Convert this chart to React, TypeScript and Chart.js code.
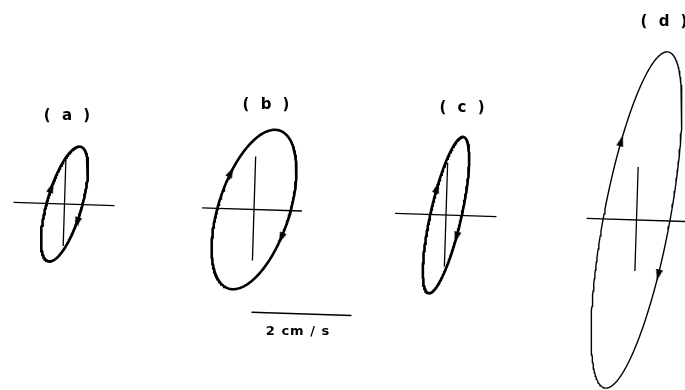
import React, { useEffect, useRef } from 'react';
import { Chart, registerables } from 'chart.js';

Chart.register(...registerables);

// ---- Data (tidal current ellipses, cm/s) ----
const stations = ['(a)', '(b)', '(c)', '(d)'];
const majorAxis = [1.19, 1.66, 1.6, 3.42]; // semi-major axis, cm/s
const minorAxis = [0.35, 0.71, 0.31, 0.66]; // semi-minor axis, cm/s
const inclination = [16, 18, 12.7, 10.7]; // degrees clockwise from north
const arrowPhaseUp = [-78, -70, -72, -64]; // phase (deg) of the upward arrow
const arrowPhaseDown = [104, 103, 104, 107]; // phase (deg) of the downward arrow
const scaleBarValue = 2; // cm/s
const scaleBarLabel = '2 cm / s';

// ---- Layout (chart units: 1 unit = 1 cm/s) ----
const PX_PER_UNIT = 50;
const WIDTH = 685;
const HEIGHT = 390;
const centerX = [1.29, 5.08, 8.92, 12.73];
const centerY = [3.72, 3.61, 3.5, 3.4];
const armLeft = [1.02, 1.04, 1.02, 1.0];
const armRight = [1.0, 0.96, 1.01, 1.02];
const armUp = [0.94, 1.06, 1.04, 1.06];
const armDown = [0.84, 1.02, 1.03, 1.02];
const labelX = [1.34, 5.32, 9.24, 13.28];
const labelY = [5.48, 5.7, 5.64, 7.36];
const ellipseWidth = [2.6, 2.6, 2.6, 1.4];
const scanTilt = 1.8; // degrees, figure slightly rotated clockwise
const scaleBarStart = { x: 5.03, y: 1.554 };
const scaleLabelPos = { x: 5.96, y: 1.16 };

const deg = Math.PI / 180;

function rotateCW(x: number, y: number, a: number) {
  const c = Math.cos(a * deg);
  const s = Math.sin(a * deg);
  return { x: x * c + y * s, y: -x * s + y * c };
}

function ellipsePoint(i: number, tDeg: number) {
  const a = majorAxis[i];
  const b = minorAxis[i];
  const s = Math.sin(inclination[i] * deg);
  const c = Math.cos(inclination[i] * deg);
  const t = tDeg * deg;
  const e = a * Math.cos(t) * s + b * Math.sin(t) * c;
  const n = a * Math.cos(t) * c - b * Math.sin(t) * s;
  const de = -a * Math.sin(t) * s + b * Math.cos(t) * c;
  const dn = -a * Math.sin(t) * c - b * Math.cos(t) * s;
  return { x: centerX[i] + e, y: centerY[i] + n, rot: Math.atan2(de, dn) / deg };
}

function makeArrowHead() {
  const cv = document.createElement('canvas');
  cv.width = 7;
  cv.height = 11;
  const g = cv.getContext('2d');
  if (g) {
    g.fillStyle = '#000';
    g.beginPath();
    g.moveTo(3.5, 0);
    g.lineTo(7, 11);
    g.lineTo(0, 11);
    g.closePath();
    g.fill();
  }
  return cv;
}

export default function App() {
  const ref = useRef<HTMLCanvasElement | null>(null);

  useEffect(() => {
    if (!ref.current) return;
    const arrowHead = makeArrowHead();
    const datasets: any[] = [];

    stations.forEach((_, i) => {
      const pts = [];
      for (let k = 0; k <= 240; k++) {
        const p = ellipsePoint(i, (360 * k) / 240);
        pts.push({ x: p.x, y: p.y });
      }
      datasets.push({
        data: pts,
        showLine: true,
        borderColor: '#000',
        borderWidth: ellipseWidth[i],
        pointRadius: 0,
        tension: 0,
        clip: false,
      });
      const l = rotateCW(-armLeft[i], 0, scanTilt);
      const r = rotateCW(armRight[i], 0, scanTilt);
      const u = rotateCW(0, armUp[i], scanTilt);
      const d = rotateCW(0, -armDown[i], scanTilt);
      datasets.push({
        data: [
          { x: centerX[i] + l.x, y: centerY[i] + l.y },
          { x: centerX[i] + r.x, y: centerY[i] + r.y },
        ],
        showLine: true,
        borderColor: '#000',
        borderWidth: 1.3,
        pointRadius: 0,
        clip: false,
      });
      datasets.push({
        data: [
          { x: centerX[i] + u.x, y: centerY[i] + u.y },
          { x: centerX[i] + d.x, y: centerY[i] + d.y },
        ],
        showLine: true,
        borderColor: '#000',
        borderWidth: 1.3,
        pointRadius: 0,
        clip: false,
      });
      const up = ellipsePoint(i, arrowPhaseUp[i]);
      const dn = ellipsePoint(i, arrowPhaseDown[i]);
      datasets.push({
        data: [
          { x: up.x, y: up.y },
          { x: dn.x, y: dn.y },
        ],
        showLine: false,
        pointStyle: arrowHead,
        pointRadius: 5,
        rotation: [up.rot, dn.rot],
        backgroundColor: '#000',
        borderColor: '#000',
        borderWidth: 0,
        clip: false,
      });
    });

    const sb = rotateCW(scaleBarValue, 0, scanTilt);
    datasets.push({
      data: [
        { x: scaleBarStart.x, y: scaleBarStart.y },
        { x: scaleBarStart.x + sb.x, y: scaleBarStart.y + sb.y },
      ],
      showLine: true,
      borderColor: '#000',
      borderWidth: 1.5,
      pointRadius: 0,
      clip: false,
    });

    const textPlugin = {
      id: 'ellipseLabels',
      afterDatasetsDraw(chart: any) {
        const { ctx, scales } = chart;
        ctx.save();
        ctx.fillStyle = '#000';
        ctx.textAlign = 'center';
        ctx.textBaseline = 'middle';
        ctx.font = "bold 15px 'DejaVu Sans'";
        (ctx as any).letterSpacing = '3px';
        stations.forEach((s, i) => {
          const label = s.split('').join(' ');
          ctx.fillText(label, scales.x.getPixelForValue(labelX[i]) + 1.5, scales.y.getPixelForValue(labelY[i]));
        });
        ctx.font = "bold 13px 'DejaVu Sans'";
        (ctx as any).letterSpacing = '1px';
        ctx.fillText(scaleBarLabel, scales.x.getPixelForValue(scaleLabelPos.x), scales.y.getPixelForValue(scaleLabelPos.y));
        ctx.restore();
      },
    };

    const chart = new Chart(ref.current, {
      type: 'scatter',
      data: { datasets },
      options: {
        animation: false,
        responsive: false,
        devicePixelRatio: 1,
        layout: { padding: 0, autoPadding: false },
        plugins: { legend: { display: false }, tooltip: { enabled: false } },
        events: [],
        scales: {
          x: { type: 'linear', min: 0, max: WIDTH / PX_PER_UNIT, display: false },
          y: { type: 'linear', min: 0, max: HEIGHT / PX_PER_UNIT, display: false },
        },
      },
      plugins: [textPlugin],
    });
    return () => chart.destroy();
  }, []);

  return (
    <div style={{ position: 'fixed', left: 0, top: 0, width: WIDTH, height: HEIGHT, background: '#fff' }}>
      <canvas ref={ref} width={WIDTH} height={HEIGHT} style={{ width: WIDTH, height: HEIGHT, display: 'block' }} />
    </div>
  );
}
